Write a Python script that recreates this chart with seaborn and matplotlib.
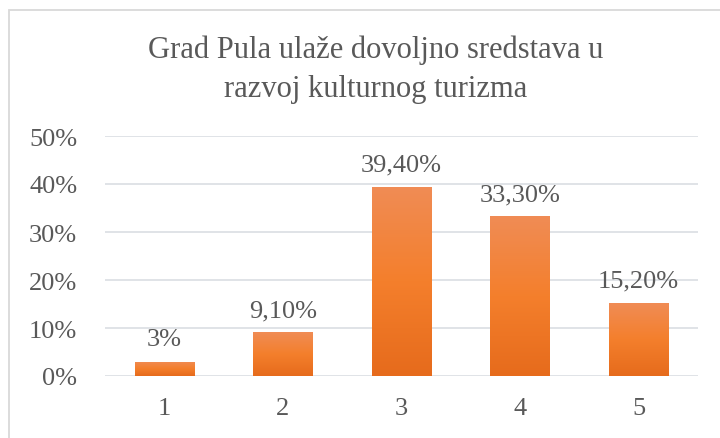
import numpy as np
import pandas as pd
import matplotlib.pyplot as plt
import matplotlib.colors as mcolors
from matplotlib.patches import Rectangle
import seaborn as sns

categories = ["1", "2", "3", "4", "5"]
values = [0.03, 0.091, 0.394, 0.333, 0.152]
labels = ["3%", "9,10%", "39,40%", "33,30%", "15,20%"]
title = "Grad Pula ulaže dovoljno sredstava u\nrazvoj kulturnog turizma"

sns.set_style("white")
plt.rcParams['font.family'] = ['Liberation Serif', 'DejaVu Serif']
text_color = "#595959"
grid_color = "#DDE0E5"

df = pd.DataFrame({"cat": categories, "val": values})

fig = plt.figure(figsize=(7.2, 4.39), dpi=100)
ax = fig.add_axes([105 / 720, 1 - 377 / 439, 593 / 720, 240 / 439])

sns.barplot(data=df, x="cat", y="val", color="#F07F2C", width=0.5, ax=ax, zorder=3)

# vertical gradient on each bar, like the Excel fill
grad = mcolors.LinearSegmentedColormap.from_list(
    "og", ["#E66B1C", "#F47F2C", "#F08C55"])
img = np.linspace(0, 1, 256).reshape(-1, 1)
for p in ax.patches:
    x0, y0 = p.get_x(), p.get_y()
    w, h = p.get_width(), p.get_height()
    im = ax.imshow(img, cmap=grad, aspect="auto", origin="lower",
                   extent=[x0, x0 + w, y0, y0 + h], zorder=4)
    im.set_clip_path(p)
    p.set_alpha(0)

for i, (v, lab) in enumerate(zip(values, labels)):
    ax.annotate(lab, (i, v), xytext=(0, 8), textcoords="offset points",
                ha="center", va="bottom", fontsize=19, color=text_color, zorder=5)

ax.set_xlim(-0.5, 4.5)
ax.set_ylim(0, 0.5)
ax.set_yticks([0, 0.1, 0.2, 0.3, 0.4, 0.5])
ax.set_yticklabels(["0%", "10%", "20%", "30%", "40%", "50%"])
ax.tick_params(axis="y", length=0, pad=20, labelsize=19, labelcolor=text_color)
ax.tick_params(axis="x", length=0, pad=15, labelsize=19, labelcolor=text_color)
ax.yaxis.grid(True, color=grid_color, linewidth=1.3, zorder=0)
ax.set_axisbelow(True)
for s in ax.spines.values():
    s.set_visible(False)
ax.set_xlabel("")
ax.set_ylabel("")

fig.text(376 / 720, 1 - 70 / 439, title, ha="center", va="center",
         fontsize=22, color=text_color, linespacing=1.45)

# chart area border
fig.patches.append(Rectangle((9 / 720, -0.1), 1.0, 1 - 11 / 439 + 0.1,
                             transform=fig.transFigure, fill=False,
                             edgecolor="#D9D9D9", linewidth=1.3))

fig.savefig("out.png", dpi=100)
